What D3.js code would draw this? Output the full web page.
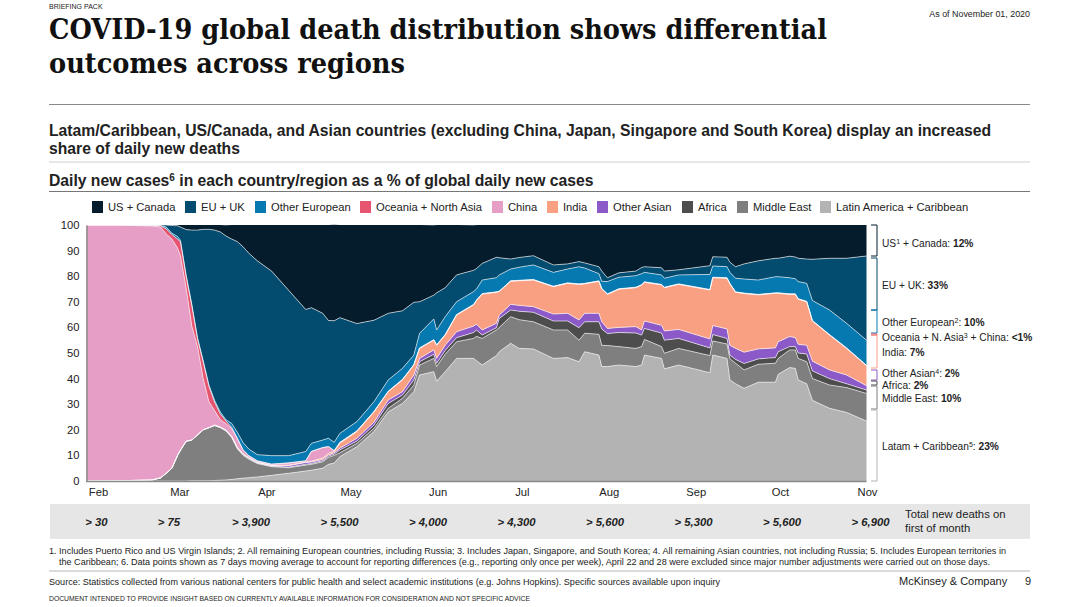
<!DOCTYPE html>
<html>
<head>
<meta charset="utf-8">
<script src="https://cdn.jsdelivr.net/npm/d3@7"></script>
<style>
  html, body { margin: 0; padding: 0; background: #fff; }
  svg { display: block; }
  text { font-family: "Liberation Sans", Arial, sans-serif; fill: #222; }
</style>
</head>
<body>
<div id="chart"></div>
<script>
// Days since Feb 1, 2020
const days = [0,12,23,26,28,30,32,33,35,37,
  39,41,43,45,47,49,51,53,55,57,
  60,65,71,77,79,83,85,87,89,95,
  101,106,111,115,117,122,123,126,130,136,
  137,139,144,145,149,152,157,164,169,173,
  175,180,181,183,187,193,195,196,202,203,
  208,219,220,225,226,228,231,236,242,243,
  247,249,250,253,255,261,267,274];

// Share of global daily deaths
const latam = [0,0,0,0,0,0,0,0,0,.1,
  .1,.1,.1,.2,.3,.4,.6,.9,1.1,1.3,
  1.6,2.2,3,3.9,4.2,5,6.5,7,9.5,13.4,
  19.3,27,30.3,34.9,41.4,42.7,39,42.7,47.9,47.9,
  47,45.3,49,50.5,53.8,51.8,51.6,47.9,48.2,46.6,
  50.5,49.2,44.7,44.7,45.3,44.7,45.3,49.2,47.9,43.8,
  45.3,42.3,49.2,47.9,39.5,38,36.2,38.6,38.6,41.7,
  44.3,44,39.5,38,31.5,28.4,26.8,23.4];
const middleEast = [0,.1,.4,1.2,3,5,10,12,15.5,15.9,
  17.9,19.9,20.7,21.4,20.5,19.1,16.4,11.6,8.9,7.2,
  5.2,3.4,2.2,2.3,2.3,2.5,2.7,3,1.5,1.3,
  1.3,1.4,2,2.6,3.9,5.2,5.7,6.8,6.5,7.8,
  9.5,10.4,10,9.5,10.4,11.2,10.6,11.1,10.8,8.4,
  7.2,8.1,8.3,8.2,7.2,7.1,7.2,6.1,4.6,6.1,
  6.5,6.7,5.5,5.6,8.3,8,7.2,7,7.4,6.2,
  6.9,7.2,8.4,8.6,8.5,9.1,9.7,10.8];
const africa = [0,0,0,0,0,0,0,0,0,0,
  0,0,0,.1,.1,.2,.2,.3,.3,.3,
  .2,.2,.2,.3,.3,.4,.5,.5,1.1,.9,
  1.3,1.9,1.3,2,1.3,1.6,1.3,1.5,1.6,2.3,
  2.5,1.3,.9,3.5,2.6,3.3,3.7,3.5,3.5,4.9,
  4.5,4.9,6.4,4.7,5.5,6,4.5,4.3,5.3,5.1,
  3.9,3,2.5,2.2,1.4,1.5,2.5,2.1,2.2,2.6,
  1.3,1.3,2.1,3,3,2.5,1.5,1.3];
const otherAsian = [0,0,0,0,0,0,0,0,0,0,
  0,0,0,.1,.1,.1,.2,.2,.2,.2,
  .2,.2,.6,.7,.6,.5,.5,.5,.7,1.1,
  1.1,1.3,1.3,1.9,1.3,1.7,1.9,2,2.3,2.5,
  2.2,2,1.7,1.3,2.2,2.3,2.2,2.7,3,3,
  3.3,3.3,2.8,2,2,2.5,2,2.9,3,3.6,
  3.5,3.5,3.5,3.7,3.8,4.3,4.4,3.9,3.8,3.9,
  3.9,3.5,3.4,3.4,3.8,3.4,3.4,1.7];
const india = [0,0,0,0,0,0,0,0,0,0,
  0,0,0,.1,.1,.1,.1,.2,.2,.2,
  .1,.1,.2,.2,.3,.6,.6,.5,1.9,2.6,
  4,3.3,4.6,3.9,3.9,3.8,5.1,4,6.5,8.3,
  9.3,14,12.1,9.2,9,9.6,10.4,10.7,11.7,13.9,
  11.5,12.5,12.8,13.3,14.9,15.2,17.5,15.1,15.8,16.9,
  17.6,19.1,18.7,19.8,24,21.9,22.9,21.1,21.3,18.9,
  16.5,16.9,17.6,17,15.7,13.6,10.4,7.8];
const china = [100,99.9,99.2,98,93.5,89.5,81,76,60,44.5,
  34.5,20,10.2,5.6,2.9,2.5,3,3.3,1.3,.6,
  .5,.4,.8,.4,3.8,4,2.6,.3,.3,.2,
  .1,.1,.1,.1,.1,.1,.1,.1,.1,.1,
  .1,.1,.1,.1,.1,.1,.1,.1,.1,.1,
  .1,.1,.1,.1,.1,.1,.1,.1,.1,.1,
  .1,.1,.1,.1,.1,.1,.1,.1,.1,.1,
  .1,.1,.1,.1,.1,.1,.1,.1];
const oceania = [0,0,.2,.5,2,1.8,3.5,5.5,4.5,8,
  3,6.5,6,3.3,2.2,1,.5,.3,.2,.2,
  .1,.1,.1,.1,.1,.1,.1,.1,.1,.1,
  .1,.1,.1,.1,.1,.1,.1,.1,.1,.1,
  .1,.1,.1,.1,.1,.1,.1,.1,.1,.1,
  .1,.1,.1,.1,.1,.1,.1,.1,.1,.1,
  .1,.1,.1,.1,.1,.1,.1,.1,.1,.1,
  .1,.1,.1,.1,.1,.1,.1,.1];
const otherEuropean = [0,0,.1,.1,.7,.5,1,.5,.5,.5,
  .5,.5,.5,.7,.8,.5,1.5,2.2,2.8,2.5,
  2.4,3.3,2.8,3.6,3.1,2.9,3.2,3.2,3.5,3.6,
  3.8,4.4,4.3,3.7,5.7,8.1,5.8,7,5,5,
  4.3,5.3,5.5,6.3,4.6,5.1,5.7,5.4,5.4,6.7,
  6,2.8,2.8,4.8,4.5,4.5,4.3,3.7,3.7,3.5,
  3.5,5.9,4.4,4.3,4.3,5.3,5.5,5.6,6.3,6.3,
  6.3,5.9,6.7,7,7.8,9.6,9.6,9.8];
const euUk = [0,0,.1,.2,.8,3,4.2,5.2,17.7,29,
  42,51.3,60.8,66.5,70.3,71.8,72,74.5,76.5,76.5,
  75.7,72.1,64.6,55.5,53,49.5,46,47.5,45.2,38.3,
  31.8,26,22.5,20.6,12.3,9.3,14.5,11.3,10.5,8.3,
  8,6.5,8,6.7,3.9,3.8,3.6,2.9,2,2,
  2,2.7,4,1.5,1.7,1.8,2.4,2.2,2.8,2.8,
  2,3.4,3.6,3.7,4,4.5,5.9,7.5,7.2,7.2,
  8.4,8.5,9.1,9.5,16.1,20.2,25.4,32.9];
const usCanada = [0,0,0,0,0,.2,.3,.8,1.8,2,
  2,1.7,1.7,2,2.7,4.2,5.5,6.5,8.5,11,
  14,18,25.5,33,32.3,34.5,37.3,37.5,36.2,38.5,
  37.2,34.5,33.5,30.2,30,27.3,26.5,24.5,19.5,17.6,
  17,15,12.6,12.8,13.3,12.7,12,15.6,15.2,14.3,
  14.8,16.3,18,20.6,18.7,18,16.6,16.3,16.7,18,
  17.5,15.9,12.4,12.6,14.5,16.3,15.2,14,13,13,
  12.2,12.5,13,13.3,13.4,13,13,12.1];

// Stack order, bottom to top
const seriesKeys = ["latam","middleEast","africa","otherAsian","india","china","oceania","otherEuropean","euUk","usCanada"];
const seriesColors = ["#b3b3b3","#7f7f7f","#4d4d4d","#8c5ac8","#f9a083","#e69ec6","#e6546f","#0679b0","#034b6f","#051c2c"];
const seriesData = [latam,middleEast,africa,otherAsian,india,china,oceania,otherEuropean,euUk,usCanada];

const legendLabels = ["US + Canada","EU + UK","Other European","Oceania + North Asia","China","India","Other Asian","Africa","Middle East","Latin America + Caribbean"];
const legendKeys = ["usCanada","euUk","otherEuropean","oceania","china","india","otherAsian","africa","middleEast","latam"];
const legendX = [92,185,255,360,492,547,597,682,737,820];

const monthLabels = ["Feb","Mar","Apr","May","Jun","Jul","Aug","Sep","Oct","Nov"];
const monthDays = [0,29,60,90,121,151,182,213,243,274];
const yTicks = [0,10,20,30,40,50,60,70,80,90,100];
const monthlyDeaths = ["> 30","> 75","> 3,900","> 5,500","> 4,000","> 4,300","> 5,600","> 5,300","> 5,600","> 6,900"];

// Right-hand labels: [text, superscript, rest, bold value, center y]
const endLabels = [
  ["US","1"," + Canada: ","12%",243],
  ["EU + UK: ","","","33%",285],
  ["Other European","2",": ","10%",322],
  ["Oceania + N. Asia","3"," + China: ","<1%",337.5],
  ["India: ","","","7%",352.5],
  ["Other Asian","4",": ","2%",373],
  ["Africa: ","","","2%",385.5],
  ["Middle East: ","","","10%",398],
  ["Latam + Caribbean","5",": ","23%",446]
];
// Bracket segments beside the chart: [y from, y to, colour]
const brackets = [
  [225,256,"#051c2c"],[258,310,"#034b6f"],[310,333,"#0679b0"],[334,335,"#e6546f"],
  [335,368,"#f9a083"],[370,380,"#8c5ac8"],[381,385,"#4d4d4d"],[386,409,"#7f7f7f"],[410,481,"#b3b3b3"]
];

const svg = d3.select("#chart").append("svg").attr("width", 1080).attr("height", 607);

const x = d3.scaleLinear().domain([0, 274]).range([86.5, 866.5]);
const y = d3.scaleLinear().domain([0, 100]).range([481, 225]);
// Month names sit a little inside the plot, so they get their own scale
const xLabel = d3.scaleLinear().domain([0, 274]).range([98, 867]);
const xDeaths = d3.scaleLinear().domain([0, 1, 2, 9]).range([96.5, 169, 251, 870.5]);

const rows = days.map((day, i) => {
  const row = { day };
  seriesKeys.forEach((k, j) => { row[k] = seriesData[j][i]; });
  return row;
});
const stacked = d3.stack().keys(seriesKeys)(rows);

const area = d3.area()
  .x(d => x(d.data.day))
  .y0(d => y(d[0]))
  .y1(d => y(d[1]));

svg.append("g").selectAll("path")
  .data(stacked)
  .join("path")
  .attr("d", area)
  .attr("fill", (d, i) => seriesColors[i]);

// thin light line along the top of each layer
svg.append("g").selectAll("path")
  .data(stacked.slice(0, -1))
  .join("path")
  .attr("d", area.lineY1())
  .attr("fill", "none")
  .attr("stroke", "#fff")
  .attr("stroke-opacity", 0.75)
  .attr("stroke-width", 0.8);

// Axes
const yAxis = svg.append("g")
  .attr("transform", "translate(86.5,0)")
  .call(d3.axisLeft(y).tickValues(yTicks).tickSize(0).tickPadding(7));
yAxis.select(".domain").attr("stroke", "#8a8a8a").attr("stroke-width", 1.5);
yAxis.selectAll("text").style("font-size", "11.2px").attr("fill", "#222");

const xAxis = svg.append("g")
  .attr("transform", "translate(0,481.5)")
  .call(d3.axisBottom(xLabel).tickValues(monthDays).tickFormat((d, i) => monthLabels[i]).tickSize(0).tickPadding(7));
xAxis.select(".domain").remove();
xAxis.selectAll("text").style("font-size", "11.2px").attr("fill", "#222");
svg.append("line").attr("x1", 86).attr("x2", 866.5).attr("y1", 481.5).attr("y2", 481.5)
  .attr("stroke", "#8a8a8a").attr("stroke-width", 1.5);

// Legend
const legend = svg.append("g").selectAll("g")
  .data(legendKeys)
  .join("g")
  .attr("transform", (d, i) => `translate(${legendX[i]},201)`);
legend.append("rect").attr("width", 11).attr("height", 12)
  .attr("fill", d => seriesColors[seriesKeys.indexOf(d)]);
legend.append("text").attr("x", 16).attr("y", 10).style("font-size", "11.2px")
  .text((d, i) => legendLabels[i]);

// Brackets and labels to the right of the plot
svg.append("g").selectAll("path")
  .data(brackets)
  .join("path")
  .attr("d", d => `M871,${d[0]}H877V${d[1]}H871`)
  .attr("fill", "none")
  .attr("stroke", d => d[2])
  .attr("stroke-width", 1);

const endText = svg.append("g").selectAll("text")
  .data(endLabels)
  .join("text")
  .attr("x", 882)
  .attr("y", d => d[4] + 3.5)
  .style("font-size", "10.2px");
endText.append("tspan").text(d => d[0]);
endText.append("tspan").attr("baseline-shift", "super").style("font-size", "7px").text(d => d[1]);
endText.append("tspan").text(d => d[2]);
endText.append("tspan").style("font-weight", "bold").text(d => d[3]);

// Deaths band
svg.append("rect").attr("x", 50).attr("y", 504).attr("width", 980).attr("height", 35).attr("fill", "#e6e6e6");
svg.append("g").selectAll("text")
  .data(monthlyDeaths)
  .join("text")
  .attr("x", (d, i) => xDeaths(i))
  .attr("y", 526)
  .attr("text-anchor", "middle")
  .style("font-size", "11.3px").style("font-weight", "bold").style("font-style", "italic")
  .text(d => d);
svg.append("text").attr("x", 905).attr("y", 518).style("font-size", "11.3px").text("Total new deaths on");
svg.append("text").attr("x", 905).attr("y", 532).style("font-size", "11.3px").text("first of month");

// Header
function label(px, py, size, str, opts = {}) {
  const t = svg.append("text").attr("x", px).attr("y", py).style("font-size", size + "px").text(str);
  if (opts.bold) t.style("font-weight", "bold");
  if (opts.anchor) t.attr("text-anchor", opts.anchor);
  if (opts.width) t.attr("textLength", opts.width).attr("lengthAdjust", "spacingAndGlyphs");
  return t;
}
label(49, 9, 7, "BRIEFING PACK");
label(1030, 17, 8.9, "As of November 01, 2020", { anchor: "end" });
label(49, 39, 27.5, "COVID-19 global death distribution shows differential", { bold: true, width: 778 })
  .style("font-family", "'DejaVu Serif', serif").style("fill", "#111");
label(49, 73, 27.5, "outcomes across regions", { bold: true, width: 356 })
  .style("font-family", "'DejaVu Serif', serif").style("fill", "#111");

svg.append("line").attr("x1", 49).attr("x2", 1030).attr("y1", 104.5).attr("y2", 104.5).attr("stroke", "#8a8a8a");
label(49, 136, 15.7, "Latam/Caribbean, US/Canada, and Asian countries (excluding China, Japan, Singapore and South Korea) display an increased", { bold: true, width: 942 });
label(49, 154, 15.7, "share of daily new deaths", { bold: true });
svg.append("line").attr("x1", 49).attr("x2", 1030).attr("y1", 162).attr("y2", 162).attr("stroke", "#cfcfcf");

const heading = label(49, 186, 15.7, "Daily new cases", { bold: true });
heading.append("tspan").attr("baseline-shift", "super").style("font-size", "10px").text("6");
heading.append("tspan").text(" in each country/region as a % of global daily new cases");
svg.append("line").attr("x1", 49).attr("x2", 1030).attr("y1", 191.5).attr("y2", 191.5).attr("stroke", "#777");

// Footer
label(49, 553.5, 8.6, "1. Includes Puerto Rico and US Virgin Islands; 2. All remaining European countries, including Russia; 3. Includes Japan, Singapore, and South Korea; 4. All remaining Asian countries, not including Russia; 5. Includes European territories in", { width: 957 });
label(59, 564.5, 8.6, "the Caribbean; 6. Data points shown as 7 days moving average to account for reporting differences (e.g., reporting only once per week), April 22 and 28 were excluded since major number adjustments were carried out on those days.", { width: 931 });
svg.append("line").attr("x1", 49).attr("x2", 1030).attr("y1", 571).attr("y2", 571).attr("stroke", "#cfcfcf").attr("stroke-width", 1.5);
label(49, 584.5, 8.6, "Source: Statistics collected from various national centers for public health and select academic institutions (e.g. Johns Hopkins). Specific sources available upon inquiry", { width: 671 });
label(899, 585, 11, "McKinsey & Company");
label(1031, 585, 11, "9", { anchor: "end" });
label(49, 600.5, 6.6, "DOCUMENT INTENDED TO PROVIDE INSIGHT BASED ON CURRENTLY AVAILABLE INFORMATION FOR CONSIDERATION AND NOT SPECIFIC ADVICE", { width: 481 });
</script>
</body>
</html>
